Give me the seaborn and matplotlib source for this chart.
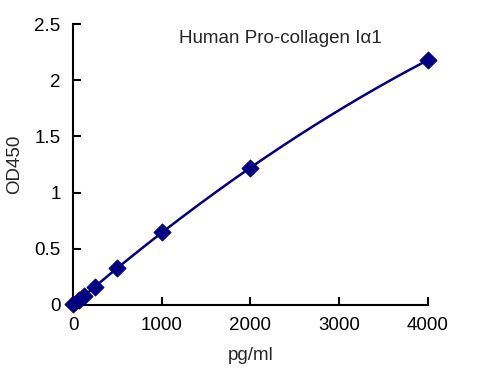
import matplotlib
matplotlib.use("Agg")
import matplotlib.pyplot as plt
import seaborn as sns
import numpy as np

conc = [0, 62.5, 125, 250, 500, 1000, 2000, 4000]
od = [0.005, 0.04, 0.08, 0.16, 0.33, 0.65, 1.22, 2.18]

sns.set_style("ticks")
plt.rcParams['font.family'] = ['Liberation Sans', 'DejaVu Sans']

fig = plt.figure(figsize=(4.78, 3.77), dpi=100)
ax = fig.add_axes([0.153, 0.191, 0.742, 0.745])

# smooth fitted curve
coef = np.polyfit(conc, od, 2)
xs = np.linspace(0, 4000, 200)
sns.lineplot(x=xs, y=np.polyval(coef, xs), color="#000080", linewidth=1.8, ax=ax)
sns.scatterplot(x=conc, y=od, marker="D", s=75, color="#000080", edgecolor="#000080", ax=ax, zorder=3, clip_on=False)

ax.set_xlim(0, 4000)
ax.set_ylim(0, 2.5)
ax.set_xticks([0, 1000, 2000, 3000, 4000])
ax.set_yticks([0, 0.5, 1, 1.5, 2, 2.5])
ax.set_yticklabels(["0", "0.5", "1", "1.5", "2", "2.5"])
ax.tick_params(direction="in", length=6, width=1.5, labelsize=13.5, colors="black", pad=9)
for s in ["left", "bottom"]:
    ax.spines[s].set_linewidth(1.5)
    ax.spines[s].set_color("black")
sns.despine(ax=ax)

ax.set_xlabel("pg/ml", fontsize=13.5, labelpad=9)
ax.set_ylabel("OD450", fontsize=13.5, labelpad=8)
ax.text(0.585, 0.95, "Human Pro-collagen Iα1", transform=ax.transAxes, ha="center", va="center", fontsize=13.5)

fig.savefig("out.png", dpi=100)
